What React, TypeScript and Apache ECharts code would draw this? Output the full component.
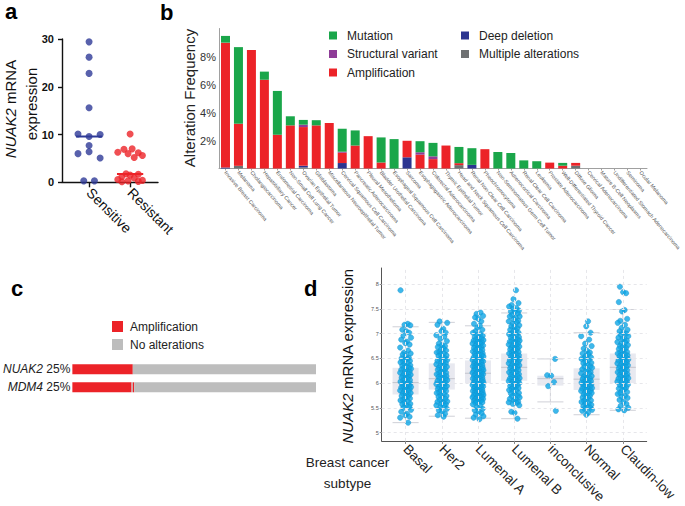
import React, { useEffect, useRef } from 'react';
import * as echarts from 'echarts';

const FONT = '"Liberation Sans", Arial, Helvetica, sans-serif';

// ---------- panel a ----------
const GROUPS_A = ['Sensitive', 'Resistant'];
const SENS_VALS = [29.4, 26.2, 22.8, 15.6, 10.1, 10.0, 9.6, 7.7, 6.4, 6.0, 5.1, 0.3, 0.3];
const SENS_JIT = [0, 0, 0, 0, -0.27, 0.27, 0, 0, 0, -0.27, 0.27, -0.13, 0.13];
const RES_VALS = [10.1, 7.0, 6.9, 6.3, 6.2, 6.0, 5.6, 5.2, 1.8, 1.7, 1.5, 1.2, 0.9, 0.6, 0.4, 0.3, 0.2, 0.1];
const RES_JIT = [0, 0.05, -0.15, -0.3, 0.2, -0.05, 0.3, 0.1, -0.1, 0.2, 0.0, -0.2, 0.1, -0.3, 0.3, -0.05, 0.2, -0.2];

// ---------- panel b ----------
const CANCER_TYPES = [
  'Invasive Breast Carcinoma', 'Melanoma', 'Cholangiocarcinoma', 'Hepatobiliary Cancer',
  'Endometrial Carcinoma', 'Non-Small Cell Lung Cancer', 'Ovarian Epithelial Tumor', 'Glioblastoma',
  'Miscellaneous Neuroepithelial Tumor', 'Cervical Squamous Cell Carcinoma', 'Pancreatic Adenocarcinoma',
  'Pleural Mesothelioma', 'Bladder Urothelial Carcinoma', 'Esophageal Squamous Cell Carcinoma', 'Sarcoma',
  'Esophagogastric Adenocarcinoma', 'Colorectal Adenocarcinoma', 'Thymic Epithelial Tumor',
  'Head and Neck Squamous Cell Carcinoma', 'Renal Non-Clear Cell Carcinoma', 'Pheochromocytoma',
  'Non-Seminomatous Germ Cell Tumor', 'Adrenocortical Carcinoma', 'Renal Clear Cell Carcinoma', 'Leukemia',
  'Prostate Adenocarcinoma', 'Well-Differentiated Thyroid Cancer', 'Diffuse Glioma', 'Cervical Adenocarcinoma',
  'Mature B-Cell Neoplasms', 'Undifferentiated Stomach Adenocarcinoma', 'Seminoma', 'Ocular Melanoma',
];
const MULTIPLE = [0, 0.19, 0, 0, 0, 0, 0.08, 0, 0, 0, 0, 0, 0, 0, 0, 0, 0, 0, 0.24, 0, 0, 0, 0, 0, 0, 0, 0, 0.2, 0, 0, 0, 0, 0];
const DEEP_DELETION = [0.07, 0, 0, 0, 0, 0, 0.12, 0, 0, 0.39, 0, 0, 0, 0, 0.8, 0, 0, 0, 0, 0.26, 0, 0, 0, 0, 0, 0, 0, 0, 0, 0, 0, 0, 0];
const AMPLIFICATION = [8.92, 3.01, 8.46, 6.34, 2.41, 3.08, 2.76, 3.08, 3.25, 0.74, 1.64, 2.31, 0.43, 0, 1.18, 0.99, 0.67, 1.64, 0.14, 0, 1.38, 0, 0, 0, 0, 0.42, 0.2, 0.2, 0, 0, 0, 0, 0];
const STRUCTURAL = [0, 0, 0, 0, 0, 0, 0.17, 0, 0, 0.07, 0, 0, 0, 0, 0, 0.17, 0.2, 0, 0, 0, 0, 0, 0, 0, 0, 0, 0, 0, 0, 0, 0, 0, 0];
const MUTATION = [0.48, 5.47, 0, 0.58, 3.13, 0.65, 0.34, 0.37, 0, 1.64, 1.08, 0, 1.79, 2.1, 0, 0.79, 0.96, 0, 1.16, 1.19, 0, 1.18, 1.1, 0.58, 0.52, 0, 0.2, 0, 0, 0, 0, 0, 0];

// ---------- panel c ----------
const GENES = ['NUAK2', 'MDM4'];
const AMP_A = [24.8, 24.3];
const NONE_A = [0, 0.5];
const AMP_B = [0, 0.6];
const NONE_B = [75.2, 74.6];

// ---------- panel d ----------
const SUBTYPES = ['Basal', 'Her2', 'Lumenal A', 'Lumenal B', 'inconclusive', 'Normal', 'Claudin-low'];
const BOX_LOW = [5.2, 5.33, 5.29, 5.28, 5.62, 5.36, 5.45];
const BOX_Q1 = [5.77, 5.87, 6.0, 6.05, 5.95, 5.86, 6.0];
const BOX_MED = [6.01, 6.09, 6.2, 6.32, 6.09, 6.08, 6.32];
const BOX_Q3 = [6.31, 6.4, 6.46, 6.6, 6.15, 6.3, 6.6];
const BOX_HIGH = [7.14, 7.23, 7.16, 7.42, 6.49, 7.02, 7.49];
const Y_TICKS_D = [5, 5.5, 6, 6.5, 7, 7.5, 8];

const BASAL = [7.88, 7.2, 7.18, 7.17, 7.08, 7.05, 7.02, 6.96, 6.92, 6.88, 6.84, 6.81, 6.78, 6.72, 6.66, 6.62, 6.58, 6.55, 6.51, 6.49, 6.47, 6.45, 6.42, 6.4, 6.38, 6.35, 6.33, 6.31, 6.29, 6.27, 6.25, 6.23, 6.21, 6.19, 6.17, 6.15, 6.13, 6.11, 6.09, 6.07, 6.05, 6.03, 6.01, 5.99, 5.97, 5.95, 5.93, 5.91, 5.89, 5.87, 5.85, 5.83, 5.8, 5.78, 5.75, 5.72, 5.69, 5.66, 5.63, 5.6, 5.57, 5.54, 5.5, 5.46, 5.42, 5.38, 5.35, 5.32, 5.3, 5.2,
  6.44, 6.36, 6.3, 6.24, 6.18, 6.12, 6.06, 6.0, 5.96, 5.92, 5.88, 5.84, 5.79, 5.74, 5.7, 5.65, 5.58, 5.52, 6.5, 6.6];
const HER2 = [7.25, 7.22, 7.18, 7.1, 7.05, 7.02, 6.97, 6.94, 6.9, 6.85, 6.8, 6.77, 6.73, 6.7, 6.66, 6.63, 6.6, 6.58, 6.55, 6.52, 6.5, 6.47, 6.45, 6.42, 6.4, 6.38, 6.35, 6.33, 6.31, 6.29, 6.27, 6.25, 6.22, 6.2, 6.18, 6.16, 6.14, 6.12, 6.1, 6.08, 6.06, 6.04, 6.02, 6.0, 5.98, 5.96, 5.94, 5.92, 5.9, 5.88, 5.86, 5.84, 5.81, 5.78, 5.75, 5.72, 5.69, 5.66, 5.63, 5.6, 5.57, 5.55, 5.54, 5.51, 5.48, 5.45, 5.42, 5.38, 5.35, 5.32,
  6.62, 6.56, 6.48, 6.43, 6.36, 6.28, 6.21, 6.15, 6.09, 6.03, 5.97, 5.91, 5.85, 5.8, 5.74, 5.68, 5.62, 5.58, 6.68, 6.75];
const LUMENAL_A = [7.43, 7.4, 7.36, 7.33, 7.3, 7.25, 7.2, 7.16, 7.12, 7.08, 7.05, 7.02, 6.99, 6.96, 6.93, 6.9, 6.88, 6.86, 6.84, 6.82, 6.8, 6.78, 6.76, 6.74, 6.72, 6.7, 6.68, 6.66, 6.64, 6.62, 6.6, 6.58, 6.56, 6.54, 6.52, 6.5, 6.48, 6.47, 6.45, 6.44, 6.42, 6.41, 6.39, 6.38, 6.36, 6.35, 6.33, 6.32, 6.3, 6.29, 6.27, 6.26, 6.24, 6.23, 6.21, 6.2, 6.18, 6.17, 6.15, 6.14, 6.12, 6.11, 6.09, 6.08, 6.06, 6.05, 6.03, 6.02, 6.0, 5.99, 5.97, 5.96, 5.94, 5.92, 5.9, 5.88, 5.86, 5.84, 5.82, 5.8, 5.78, 5.76, 5.74, 5.72, 5.7, 5.68, 5.66, 5.64, 5.62, 5.6, 5.57, 5.54, 5.51, 5.48, 5.45, 5.42, 5.39, 5.36, 5.33, 5.3, 5.27,
  6.97, 6.91, 6.87, 6.83, 6.79, 6.75, 6.71, 6.67, 6.63, 6.59, 6.55, 6.51, 6.46, 6.43, 6.37, 6.34, 6.31, 6.28, 6.25, 6.22, 6.19, 6.16, 6.13, 6.1, 6.07, 6.04, 6.01, 5.98, 5.95, 5.93, 5.91, 5.89, 5.87, 5.85, 5.83, 5.81, 5.79, 5.77, 5.75, 5.73, 5.71, 5.69, 5.67, 5.65, 5.63, 5.61];
const LUMENAL_B = [7.88, 7.7, 7.62, 7.58, 7.55, 7.52, 7.5, 7.47, 7.44, 7.41, 7.38, 7.35, 7.32, 7.29, 7.26, 7.23, 7.2, 7.17, 7.14, 7.11, 7.08, 7.05, 7.02, 7.0, 6.97, 6.95, 6.92, 6.9, 6.88, 6.86, 6.84, 6.82, 6.8, 6.78, 6.76, 6.74, 6.72, 6.7, 6.68, 6.66, 6.64, 6.62, 6.6, 6.58, 6.56, 6.54, 6.52, 6.5, 6.48, 6.46, 6.44, 6.42, 6.4, 6.38, 6.36, 6.34, 6.32, 6.3, 6.28, 6.26, 6.24, 6.22, 6.2, 6.18, 6.16, 6.14, 6.12, 6.1, 6.08, 6.06, 6.04, 6.02, 6.0, 5.98, 5.96, 5.94, 5.92, 5.9, 5.88, 5.86, 5.83, 5.8, 5.77, 5.74, 5.71, 5.68, 5.65, 5.62, 5.6, 5.58, 5.55, 5.42, 5.4, 5.28,
  7.15, 7.06, 6.99, 6.93, 6.87, 6.81, 6.75, 6.69, 6.63, 6.57, 6.51, 6.45, 6.39, 6.33, 6.27, 6.21, 6.15, 6.09, 6.03, 5.97, 5.91, 5.85, 5.79, 5.73, 5.67, 5.61, 7.25, 7.35, 7.45, 6.05];
const INCONCLUSIVE = [6.49, 6.16, 6.15, 6.02, 5.94, 5.44];
const NORMAL = [7.25, 7.15, 7.02, 6.95, 6.88, 6.8, 6.75, 6.7, 6.66, 6.62, 6.58, 6.55, 6.52, 6.49, 6.46, 6.43, 6.4, 6.37, 6.34, 6.31, 6.28, 6.25, 6.22, 6.19, 6.16, 6.13, 6.1, 6.08, 6.06, 6.04, 6.02, 6.0, 5.98, 5.96, 5.94, 5.92, 5.9, 5.88, 5.86, 5.84, 5.82, 5.8, 5.77, 5.74, 5.71, 5.68, 5.65, 5.62, 5.59, 5.56, 5.53, 5.5, 5.48, 5.46, 5.44, 5.4, 5.36,
  6.6, 6.5, 6.41, 6.33, 6.26, 6.2, 6.14, 6.09, 6.05, 6.01, 5.97, 5.93, 5.89, 5.85, 5.81, 5.76, 5.7, 5.64, 5.58, 5.52];
const CLAUDIN_LOW = [7.95, 7.84, 7.82, 7.64, 7.48, 7.45, 7.3, 7.26, 7.22, 7.18, 7.12, 7.08, 7.05, 7.02, 6.98, 6.95, 6.92, 6.89, 6.86, 6.83, 6.8, 6.77, 6.74, 6.71, 6.68, 6.65, 6.62, 6.6, 6.58, 6.56, 6.54, 6.52, 6.5, 6.48, 6.46, 6.44, 6.42, 6.4, 6.38, 6.36, 6.34, 6.32, 6.3, 6.28, 6.26, 6.24, 6.22, 6.2, 6.18, 6.16, 6.14, 6.12, 6.1, 6.08, 6.06, 6.04, 6.02, 6.0, 5.97, 5.94, 5.91, 5.88, 5.85, 5.82, 5.78, 5.74, 5.7, 5.66, 5.62, 5.58, 5.54, 5.5, 5.47, 5.45,
  7.0, 6.9, 6.82, 6.75, 6.69, 6.63, 6.57, 6.51, 6.45, 6.39, 6.33, 6.27, 6.21, 6.15, 6.09, 6.03, 5.96, 5.89, 5.8, 5.72];
const JITTER_D = [-0.14, 0.06, -0.03, 0.13, -0.09, 0.02, 0.1, -0.06, 0.15, -0.12, 0.04, -0.01, 0.11, -0.15, 0.07, -0.04, 0.14, -0.08, 0.01, 0.09, -0.11, 0.05, -0.02, 0.12, -0.07];

const RED = '#EC2328';
const GREEN = '#1AA64A';
const PURPLE = '#8E3C97';
const BLUE = '#2B3490';
const GRAY = '#6E7072';
const NOALT = '#BDBDBD';
const NAVY = '#2E3A97';
const SKY = '#0CA6E6';

function median(arr: number[]) {
  const s = [...arr].sort((a, b) => a - b);
  const m = Math.floor(s.length / 2);
  return s.length % 2 ? s[m] : (s[m - 1] + s[m]) / 2;
}

function buildOption() {
  const sensMed = median(SENS_VALS);
  const resMed = median(RES_VALS);
  const pct = GENES.map((_, i) => Math.round(AMP_A[i] + AMP_B[i]));
  const groupsD = [BASAL, HER2, LUMENAL_A, LUMENAL_B, INCONCLUSIVE, NORMAL, CLAUDIN_LOW];
  const pointsD: number[][] = [];
  groupsD.forEach((vals, g) => {
    const sorted = [...vals].sort((a, b) => b - a);
    sorted.forEach((v, i) => pointsD.push([g + JITTER_D[(i + g * 7) % JITTER_D.length], v]));
  });
  const boxData = SUBTYPES.map((_, i) => [i, BOX_LOW[i], BOX_Q1[i], BOX_MED[i], BOX_Q3[i], BOX_HIGH[i]]);
  const dIdx = SUBTYPES.map((_, i) => i);

  const bBar = (name: string, data: number[], color: string) => ({
    type: 'bar', name, data, stack: 'b', xAxisIndex: 1, yAxisIndex: 1, barWidth: 9,
    itemStyle: { color }, emphasis: { disabled: true },
  });
  const cBar = (name: string, data: number[], color: string) => ({
    type: 'bar', name, data, stack: 'c', xAxisIndex: 2, yAxisIndex: 2, barWidth: 10,
    itemStyle: { color }, emphasis: { disabled: true },
  });

  const letter = (t: string, x: number, y: number) => ({
    type: 'text', x, y,
    style: { text: t, fontFamily: FONT, fontSize: 22, fontWeight: 'bold', fill: '#000', align: 'left', verticalAlign: 'middle' },
  });

  return {
    animation: false,
    backgroundColor: '#fff',
    textStyle: { fontFamily: FONT },
    grid: [
      { left: 62, top: 39, width: 96, height: 143.3 },
      { left: 219, top: 28.5, width: 428, height: 140 },
      { left: 70, top: 360.3, width: 246, height: 36 },
      { left: 381.7, top: 268, width: 265, height: 179.7 },
    ],
    xAxis: [
      {
        gridIndex: 0, type: 'value', min: -0.66, max: 1.68,
        axisLine: { show: true, onZero: false, lineStyle: { color: '#111', width: 1.4 } },
        axisTick: { show: true, customValues: [0, 1], length: 5, lineStyle: { color: '#111', width: 1.4 } },
        axisLabel: { customValues: [0, 1], formatter: (v: number) => GROUPS_A[Math.round(v)] ?? '', rotate: -45, fontSize: 14, color: '#111', margin: 8 },
        splitLine: { show: false },
      },
      {
        gridIndex: 1, type: 'category', data: CANCER_TYPES,
        axisLine: { show: true, lineStyle: { color: '#a0a0a0' } },
        axisTick: { show: true, alignWithLabel: true, length: 2, lineStyle: { color: '#a0a0a0' } },
        axisLabel: { interval: 0, rotate: -50, fontSize: 5.3, color: '#555', margin: 3 },
      },
      { gridIndex: 2, type: 'value', min: 0, max: 100, show: false },
      {
        gridIndex: 3, type: 'value', min: -0.66, max: 6.66,
        axisLine: { show: true, onZero: false, lineStyle: { color: '#555' } },
        axisTick: { show: true, customValues: dIdx, length: 3, lineStyle: { color: '#888' } },
        axisLabel: { customValues: dIdx, formatter: (v: number) => SUBTYPES[Math.round(v)] ?? '', rotate: -45, fontSize: 13.5, color: '#222', margin: 6 },
        splitLine: { show: false },
      },
    ],
    yAxis: [
      {
        gridIndex: 0, type: 'value', min: 0, max: 30, interval: 10,
        axisLine: { show: true, onZero: false, lineStyle: { color: '#111', width: 1.4 } },
        axisTick: { show: true, length: 4, lineStyle: { color: '#111', width: 1.4 } },
        axisLabel: { fontWeight: 'bold', fontSize: 11, color: '#111', margin: 8 },
        splitLine: { show: false },
      },
      {
        gridIndex: 1, type: 'value', min: 0, max: 10, interval: 2,
        axisLine: { show: true, onZero: false, lineStyle: { color: '#a0a0a0' } },
        axisTick: { show: false },
        axisLabel: { formatter: (v: number) => (v === 0 || v === 10 ? '' : v + '%'), fontSize: 11, color: '#333', margin: 3 },
        splitLine: { show: false },
      },
      {
        gridIndex: 2, type: 'category', data: GENES, inverse: true,
        axisLine: { show: false }, axisTick: { show: false },
        axisLabel: {
          margin: 2, fontSize: 12, color: '#222',
          formatter: (v: string, i: number) => `{i|${v}} ${pct[i]}%`,
          rich: { i: { fontStyle: 'italic', fontSize: 12, fontFamily: FONT, color: '#222' } },
        },
      },
      {
        gridIndex: 3, type: 'value', min: 4.83, max: 8.33,
        axisLine: { show: true, onZero: false, lineStyle: { color: '#555' } },
        axisTick: { show: true, customValues: Y_TICKS_D, length: 2, lineStyle: { color: '#888' } },
        axisLabel: { customValues: Y_TICKS_D, fontSize: 5.5, color: '#555', margin: 3 },
        splitLine: { show: false },
      },
    ],
    legend: [
      {
        data: ['Mutation', 'Structural variant', 'Amplification'], orient: 'vertical', left: 329, top: 29.5, padding: 0,
        itemWidth: 8, itemHeight: 8, itemGap: 6.5, icon: 'rect', selectedMode: false,
        textStyle: { fontSize: 12, color: '#222', padding: [0, 0, 0, 5] },
      },
      {
        data: ['Deep deletion', 'Multiple alterations'], orient: 'vertical', left: 461, top: 29.5, padding: 0,
        itemWidth: 8, itemHeight: 8, itemGap: 6.5, icon: 'rect', selectedMode: false,
        textStyle: { fontSize: 12, color: '#222', padding: [0, 0, 0, 5] },
      },
      {
        data: ['Amplification', 'No alterations'], orient: 'vertical', left: 112, top: 320.5, padding: 0,
        itemWidth: 11, itemHeight: 11, itemGap: 6, icon: 'rect', selectedMode: false,
        textStyle: { fontSize: 12, color: '#222', padding: [0, 0, 0, 2] },
      },
    ],
    graphic: [
      letter('a', 5, 11),
      letter('b', 160, 12),
      letter('c', 11, 288),
      letter('d', 304, 288),
      {
        type: 'text', x: 10, y: 109, rotation: Math.PI / 2,
        style: {
          text: '{i|NUAK2} mRNA', fontFamily: FONT, fontSize: 15, fill: '#111', align: 'center', verticalAlign: 'middle',
          rich: { i: { fontStyle: 'italic', fontSize: 15, fontFamily: FONT, fill: '#111' } },
        },
      },
      {
        type: 'text', x: 31, y: 104, rotation: Math.PI / 2,
        style: { text: 'expression', fontFamily: FONT, fontSize: 15, fill: '#111', align: 'center', verticalAlign: 'middle' },
      },
      {
        type: 'text', x: 189, y: 98, rotation: Math.PI / 2,
        style: { text: 'Alteration Frequency', fontFamily: FONT, fontSize: 15, fill: '#222', align: 'center', verticalAlign: 'middle' },
      },
      {
        type: 'text', x: 347, y: 356, rotation: Math.PI / 2,
        style: {
          text: '{i|NUAK2} mRNA expression', fontFamily: FONT, fontSize: 15, fill: '#111', align: 'center', verticalAlign: 'middle',
          rich: { i: { fontStyle: 'italic', fontSize: 15, fontFamily: FONT, fill: '#111' } },
        },
      },
      {
        type: 'text', x: 347.5, y: 462,
        style: { text: 'Breast cancer', fontFamily: FONT, fontSize: 13.5, fill: '#222', align: 'center', verticalAlign: 'middle' },
      },
      {
        type: 'text', x: 347.5, y: 483,
        style: { text: 'subtype', fontFamily: FONT, fontSize: 13.5, fill: '#222', align: 'center', verticalAlign: 'middle' },
      },
    ],
    series: [
      // panel a
      {
        type: 'scatter', name: 'Sensitive', xAxisIndex: 0, yAxisIndex: 0, symbolSize: 7,
        data: SENS_VALS.map((v, i) => [0 + SENS_JIT[i], v]), itemStyle: { color: NAVY },
      },
      {
        type: 'scatter', name: 'Resistant', xAxisIndex: 0, yAxisIndex: 0, symbolSize: 7,
        data: RES_VALS.map((v, i) => [1 + RES_JIT[i], v]), itemStyle: { color: RED },
      },
      {
        type: 'line', name: 'Sensitive median', xAxisIndex: 0, yAxisIndex: 0, symbol: 'none', z: 5,
        data: [[-0.32, sensMed], [0.32, sensMed]], lineStyle: { color: NAVY, width: 2 },
      },
      {
        type: 'line', name: 'Resistant median', xAxisIndex: 0, yAxisIndex: 0, symbol: 'none', z: 5,
        data: [[0.68, resMed], [1.32, resMed]], lineStyle: { color: RED, width: 2 },
      },
      // panel b
      bBar('Multiple alterations', MULTIPLE, GRAY),
      bBar('Deep deletion', DEEP_DELETION, BLUE),
      bBar('Amplification', AMPLIFICATION, RED),
      bBar('Structural variant', STRUCTURAL, PURPLE),
      bBar('Mutation', MUTATION, GREEN),
      // panel c
      cBar('Amplification', AMP_A, RED),
      cBar('No alterations', NONE_A, NOALT),
      cBar('Amplification', AMP_B, RED),
      cBar('No alterations', NONE_B, NOALT),
      // panel d
      {
        type: 'line', name: 'grid-d', xAxisIndex: 3, yAxisIndex: 3, data: [], z: 1, silent: true,
        markLine: {
          silent: true, symbol: 'none', label: { show: false }, animation: false,
          lineStyle: { color: '#e6e6ea', type: [3, 3], width: 1 },
          data: [
            ...Y_TICKS_D.map((v) => ({ yAxis: v })),
            ...dIdx.map((v) => ({ xAxis: v })),
          ],
        },
      },
      {
        type: 'custom', name: 'box', xAxisIndex: 3, yAxisIndex: 3, z: 2,
        encode: { x: 0, y: [1, 2, 3, 4, 5] },
        data: boxData,
        renderItem: (params: any, api: any) => {
          const x = api.value(0);
          const w = api.size([0.72, 0])[0];
          const lo = api.coord([x, api.value(1)]);
          const q1 = api.coord([x, api.value(2)]);
          const md = api.coord([x, api.value(3)]);
          const q3 = api.coord([x, api.value(4)]);
          const hi = api.coord([x, api.value(5)]);
          const ls = { stroke: '#cfd0d7', lineWidth: 1 };
          return {
            type: 'group',
            children: [
              { type: 'line', shape: { x1: hi[0], y1: hi[1], x2: q3[0], y2: q3[1] }, style: ls },
              { type: 'line', shape: { x1: q1[0], y1: q1[1], x2: lo[0], y2: lo[1] }, style: ls },
              { type: 'line', shape: { x1: hi[0] - w / 2, y1: hi[1], x2: hi[0] + w / 2, y2: hi[1] }, style: ls },
              { type: 'line', shape: { x1: lo[0] - w / 2, y1: lo[1], x2: lo[0] + w / 2, y2: lo[1] }, style: ls },
              { type: 'rect', shape: { x: q3[0] - w / 2, y: q3[1], width: w, height: q1[1] - q3[1] }, style: { fill: '#e8e9f0' } },
              { type: 'line', shape: { x1: md[0] - w / 2, y1: md[1], x2: md[0] + w / 2, y2: md[1] }, style: { stroke: '#c3c4cc', lineWidth: 1 } },
            ],
          };
        },
      },
      {
        type: 'scatter', name: 'Samples', xAxisIndex: 3, yAxisIndex: 3, z: 3, symbolSize: 5.4,
        data: pointsD, itemStyle: { color: SKY, borderColor: '#1a8fc8', borderWidth: 0.5 },
      },
    ],
  };
}

export default function App() {
  const ref = useRef<HTMLDivElement>(null);
  useEffect(() => {
    const chart = echarts.init(ref.current!, null, { renderer: 'svg' });
    chart.setOption(buildOption() as any);
    return () => chart.dispose();
  }, []);
  return (
    <div
      ref={ref}
      style={{ position: 'fixed', left: 0, top: 0, width: 685, height: 506, background: '#fff' }}
    />
  );
}
